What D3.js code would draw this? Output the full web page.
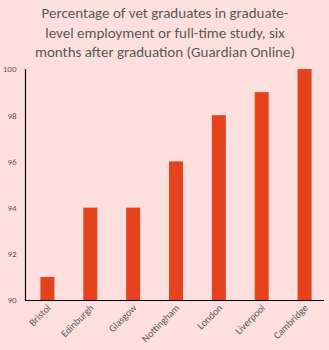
<!DOCTYPE html>
<html><head><meta charset="utf-8">
<script src="https://cdn.jsdelivr.net/npm/d3@7"></script>
<style>html,body{margin:0;padding:0;background:#fde0dd;}svg{display:block;}</style>
</head><body>
<script>
const categories = ["Bristol","Edinburgh","Glasgow","Nottingham","London","Liverpool","Cambridge"];
const values = [91, 94, 94, 96, 98, 99, 100];
const yTicks = [90, 92, 94, 96, 98, 100];
const titleLines = ["Percentage of vet graduates in graduate-","level employment or full-time study, six","months after graduation (Guardian Online)"];

(function () {
const W = 329, H = 350;
const svg = d3.select("body").append("svg").attr("width", W).attr("height", H);
svg.append("rect").attr("width", W).attr("height", H).attr("fill", "#fde0dd");

const mL = 26, mR = 326, mT = 69, mB = 300;
const x = d3.scaleBand().domain(categories).range([mL, mR]).paddingInner(0.673).paddingOuter(0.3365);
const y = d3.scaleLinear().domain([90, 100]).range([mB, mT]);

const font = "Calibri, Carlito, Lato, 'Open Sans', sans-serif";

svg.append("g").selectAll("text").data(titleLines).join("text")
  .attr("x", 165).attr("y", (d, i) => 18 + i * 19.5)
  .attr("text-anchor", "middle").attr("font-family", font).attr("font-size", 15)
  .attr("fill", "#595959").text(d => d);

svg.append("g").selectAll("rect").data(values).join("rect")
  .attr("x", (d, i) => x(categories[i])).attr("width", x.bandwidth())
  .attr("y", d => y(d)).attr("height", d => mB - y(d)).attr("fill", "#e5431e");

const yAxis = svg.append("g").attr("transform", `translate(${mL - 0.5},0)`)
  .call(d3.axisLeft(y).tickValues(yTicks).tickSize(0).tickPadding(9).tickFormat(d3.format("d")));
yAxis.select(".domain").attr("stroke", "#000").attr("stroke-width", 1.2).attr("d", `M0,${mT}V${mB}`);
yAxis.selectAll("text").attr("font-family", font).attr("font-size", 9).attr("fill", "#595959");

const xAxis = svg.append("g").attr("transform", `translate(0,${mB + 0.5})`)
  .call(d3.axisBottom(x).tickSize(0).tickPadding(0));
xAxis.select(".domain").attr("stroke", "#000").attr("stroke-width", 1.2).attr("d", `M${mL - 1},0H324`);
xAxis.selectAll("text").attr("font-family", font).attr("font-size", 10).attr("fill", "#595959")
  .attr("text-anchor", "end").attr("dy", 0)
  .attr("transform", "translate(4,8) rotate(-45)");
})();
</script>
</body></html>
